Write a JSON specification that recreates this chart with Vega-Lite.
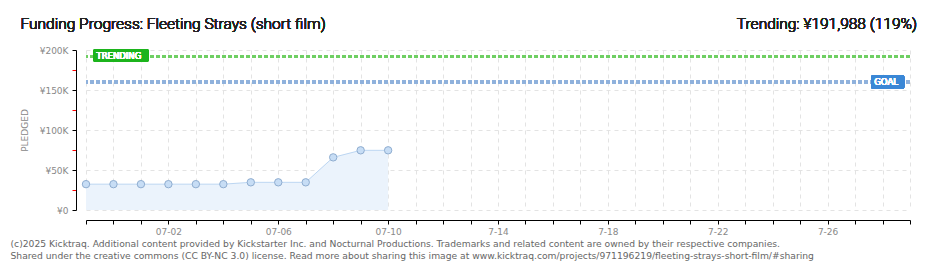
{
  "$schema": "https://vega.github.io/schema/vega-lite/v6.json",
  "width": 824,
  "height": 160,
  "autosize": {"type": "none"},
  "padding": {"left": 86, "top": 50, "right": 30, "bottom": 60},
  "background": "white",
  "config": {"view": {"stroke": null}},
  "data": {
    "values": [
      {"date": "2025-06-29T00:00", "pledged": 32300},
      {"date": "2025-06-30T00:00", "pledged": 32300},
      {"date": "2025-07-01T00:00", "pledged": 32300},
      {"date": "2025-07-02T00:00", "pledged": 32300},
      {"date": "2025-07-03T00:00", "pledged": 32300},
      {"date": "2025-07-04T00:00", "pledged": 32300},
      {"date": "2025-07-05T00:00", "pledged": 34600},
      {"date": "2025-07-06T00:00", "pledged": 34600},
      {"date": "2025-07-07T00:00", "pledged": 34600},
      {"date": "2025-07-08T00:00", "pledged": 65800},
      {"date": "2025-07-09T00:00", "pledged": 74600},
      {"date": "2025-07-10T00:00", "pledged": 74600}
    ]
  },
  "encoding": {
    "x": {
      "field": "date",
      "type": "temporal",
      "scale": {"domain": [{"year": 2025, "month": 6, "date": 29}, {"year": 2025, "month": 7, "date": 29}]},
      "axis": {
        "offset": 10,
        "tickCount": {"interval": "day", "step": 1},
        "labelExpr": "month(datum.value) == 6 && (date(datum.value) - 2) % 4 == 0 ? (date(datum.value) <= 10 ? timeFormat(datum.value, '%m-%d') : '7-' + date(datum.value)) : ''",
        "labelOverlap": false,
        "grid": true,
        "gridDash": [4, 4],
        "gridColor": "#e3e3e3",
        "domainColor": "#000000",
        "tickColor": "#000000",
        "tickSize": 4,
        "labelColor": "#888888",
        "labelFont": "DejaVu Sans",
        "labelFontSize": 9,
        "labelPadding": 3,
        "title": [
          "(c)2025 Kicktraq. Additional content provided by Kickstarter Inc. and Nocturnal Productions. Trademarks and related content are owned by their respective companies.",
          "Shared under the creative commons (CC BY-NC 3.0) license. Read more about sharing this image at www.kicktraq.com/projects/971196219/fleeting-strays-short-film/#sharing"
        ],
        "titleAnchor": "start",
        "titleAlign": "left",
        "titleX": -76,
        "titleY": 19,
        "titleBaseline": "top",
        "titleFont": "DejaVu Sans",
        "titleFontSize": 9.2,
        "titleFontWeight": "normal",
        "titleColor": "#666666",
        "titleLineHeight": 12
      }
    },
    "y": {
      "field": "pledged",
      "type": "quantitative",
      "scale": {"domain": [0, 200000]},
      "axis": {
        "offset": 10,
        "values": [0, 25000, 50000, 75000, 100000, 125000, 150000, 175000, 200000],
        "labelExpr": "datum.value % 50000 != 0 ? '' : (datum.value == 0 ? '¥0' : '¥' + datum.value / 1000 + 'K')",
        "grid": true,
        "gridDash": [4, 4],
        "gridColor": "#e3e3e3",
        "gridOpacity": {"condition": {"test": "datum.value % 50000 != 0", "value": 0}, "value": 1},
        "domainColor": "#000000",
        "tickColor": {"condition": {"test": "datum.value % 50000 != 0", "value": "#ff0000"}, "value": "#000000"},
        "tickSize": 4,
        "labelColor": "#888888",
        "labelFont": "DejaVu Sans",
        "labelFontSize": 9,
        "labelPadding": 4,
        "title": "PLEDGED",
        "titleFont": "DejaVu Sans",
        "titleFontSize": 9,
        "titleFontWeight": "normal",
        "titleColor": "#888888",
        "titlePadding": 10
      }
    }
  },
  "layer": [
    {"mark": {"type": "area", "color": "#ebf3fc"}},
    {"mark": {"type": "line", "color": "#bcd6f2", "strokeWidth": 1}},
    {"mark": {"type": "point", "filled": true, "fill": "#c7ddf5", "stroke": "#8fadd0", "strokeWidth": 1, "size": 55, "opacity": 1}},
    {
      "mark": {"type": "rule", "color": "#6fcf63", "strokeWidth": 3, "strokeDash": [4, 2]},
      "encoding": {"x": null, "y": {"datum": 191988, "type": "quantitative"}}
    },
    {
      "mark": {"type": "rule", "color": "#8fb1dc", "strokeWidth": 3, "strokeDash": [4, 2]},
      "encoding": {"x": null, "y": {"datum": 160000, "type": "quantitative"}}
    },
    {
      "mark": {"type": "rect", "color": "#1cb41c", "cornerRadius": 2},
      "encoding": {
        "x": {"datum": {"year": 2025, "month": 6, "date": 29, "hours": 6, "minutes": 30}, "type": "temporal"},
        "x2": {"datum": {"year": 2025, "month": 7, "date": 1, "hours": 6, "minutes": 40}},
        "y": {"datum": 201200, "type": "quantitative"},
        "y2": {"datum": 185000}
      }
    },
    {
      "mark": {"type": "text", "text": "TRENDING", "color": "white", "font": "DejaVu Sans", "fontSize": 8.5, "fontWeight": "normal", "align": "left", "baseline": "middle", "dx": 3},
      "encoding": {
        "x": {"datum": {"year": 2025, "month": 6, "date": 29, "hours": 6, "minutes": 30}, "type": "temporal"},
        "y": {"datum": 193100, "type": "quantitative"}
      }
    },
    {
      "mark": {"type": "rect", "color": "#3a87d6", "cornerRadius": 2},
      "encoding": {
        "x": {"datum": {"year": 2025, "month": 7, "date": 27, "hours": 14, "minutes": 10}, "type": "temporal"},
        "x2": {"datum": {"year": 2025, "month": 7, "date": 28, "hours": 19, "minutes": 0}},
        "y": {"datum": 168700, "type": "quantitative"},
        "y2": {"datum": 151300}
      }
    },
    {
      "mark": {"type": "text", "text": "GOAL", "color": "white", "font": "DejaVu Sans", "fontSize": 8.5, "fontWeight": "normal", "align": "left", "baseline": "middle", "dx": 3},
      "encoding": {
        "x": {"datum": {"year": 2025, "month": 7, "date": 27, "hours": 14, "minutes": 10}, "type": "temporal"},
        "y": {"datum": 160000, "type": "quantitative"}
      }
    },
    {
      "mark": {"type": "text", "text": "Funding Progress: Fleeting Strays (short film)", "color": "#222222", "font": "Roboto", "fontSize": 15.5, "fontWeight": 300, "align": "left", "baseline": "alphabetic", "dx": -65.5},
      "encoding": {
        "x": {"datum": {"year": 2025, "month": 6, "date": 29}, "type": "temporal"},
        "y": {"datum": 226500, "type": "quantitative"}
      }
    },
    {
      "mark": {"type": "text", "text": "Trending:  ¥191,988 (119%)", "color": "#222222", "font": "Roboto", "fontSize": 15.5, "fontWeight": 300, "align": "right", "baseline": "alphabetic", "dx": 7},
      "encoding": {
        "x": {"datum": {"year": 2025, "month": 7, "date": 29}, "type": "temporal"},
        "y": {"datum": 226500, "type": "quantitative"}
      }
    }
  ]
}
